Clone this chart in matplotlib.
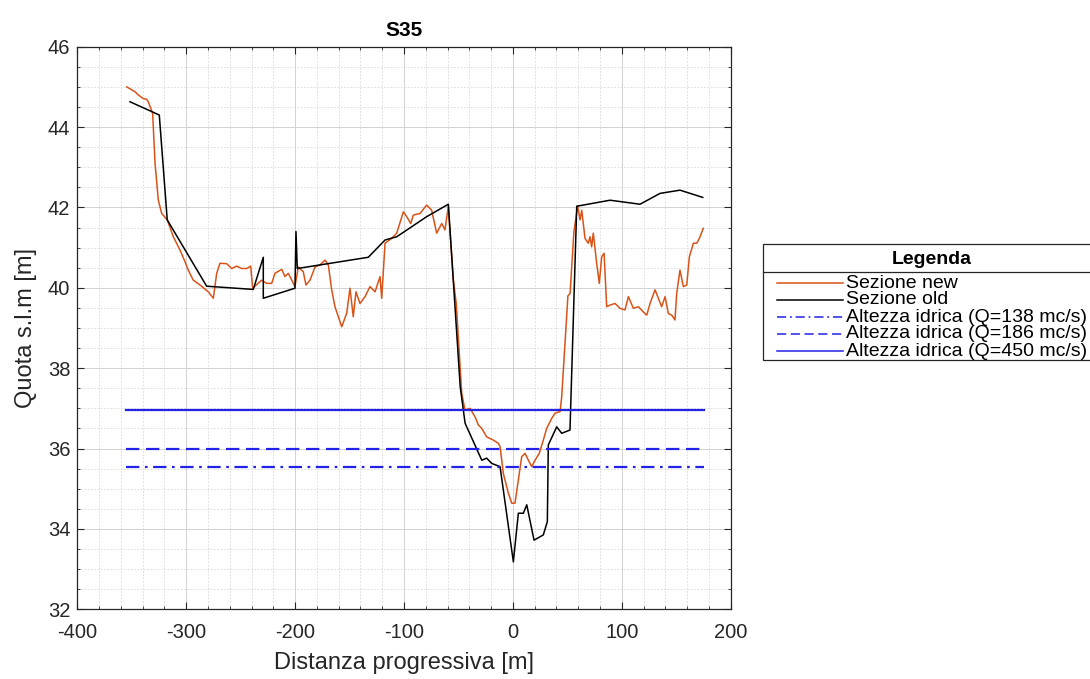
import matplotlib
matplotlib.use("Agg")
import matplotlib.pyplot as plt
from matplotlib.ticker import MultipleLocator
from matplotlib.lines import Line2D
from matplotlib.patches import Rectangle

# ---- data ----
x_new = [-354.6, -347.0, -344.0, -339.4, -336.3, -334.8, -332.6, -330.8, -328.6, -325.6,
         -322.5, -317.4, -311.8, -305.7, -301.1, -298.1, -293.5, -287.3, -279.7, -275.1,
         -272.0, -269.0, -262.8, -258.2, -253.6, -249.0, -244.4, -240.8, -239.0, -230.7,
         -226.1, -221.5, -218.5, -212.3, -209.3, -206.2, -200.1, -197.1, -192.5, -190.0,
         -186.3, -181.7, -177.1, -172.5, -169.5, -166.4, -163.4, -157.2, -152.6, -149.6,
         -146.6, -144.1, -140.4, -135.8, -131.2, -126.6, -122.0, -120.5, -117.4, -111.3,
         -106.7, -100.6, -97.5, -93.8, -91.5, -85.3, -79.2, -74.6, -70.0, -65.4,
         -62.4, -59.3, -54.7, -52.0, -47.0, -44.0, -39.4, -34.8, -31.8, -28.6,
         -24.1, -18.0, -13.4, -11.8, -8.8, -4.2, -1.1, 1.9, 5.0, 8.1,
         11.1, 14.2, 17.3, 20.3, 24.2, 27.9, 31.0, 35.6, 38.7, 43.3,
         44.8, 48.5, 50.5, 52.5, 56.0, 59.5, 61.6, 63.2, 66.2, 69.2,
         70.8, 72.3, 73.8, 76.9, 79.3, 81.5, 83.7, 86.1, 89.2, 93.8,
         98.3, 102.9, 106.0, 110.6, 115.2, 119.7, 122.9, 125.9, 130.5, 133.5,
         136.6, 139.7, 142.7, 145.8, 148.8, 150.4, 153.4, 156.5, 159.6, 162.0,
         165.7, 168.8, 171.2, 174.8]
y_new = [45.00, 44.88, 44.80, 44.71, 44.69, 44.63, 44.47, 44.34, 43.10, 42.18,
         41.85, 41.69, 41.27, 40.94, 40.65, 40.44, 40.19, 40.07, 39.90, 39.74,
         40.36, 40.61, 40.60, 40.48, 40.54, 40.48, 40.48, 40.54, 39.99, 40.19,
         40.11, 40.11, 40.36, 40.46, 40.28, 40.36, 40.03, 40.52, 40.40, 40.07,
         40.19, 40.52, 40.57, 40.69, 40.57, 39.95, 39.53, 39.03, 39.37, 39.99,
         39.28, 39.90, 39.61, 39.78, 40.03, 39.90, 40.28, 39.74, 41.11, 41.23,
         41.36, 41.89, 41.77, 41.60, 41.81, 41.85, 42.06, 41.93, 41.36, 41.60,
         41.44, 42.02, 40.19, 39.60, 37.37, 36.96, 37.00, 36.79, 36.59, 36.50,
         36.29, 36.21, 36.13, 36.05, 35.38, 34.89, 34.64, 34.64, 35.22, 35.80,
         35.88, 35.71, 35.55, 35.71, 35.88, 36.21, 36.50, 36.75, 36.88, 36.92,
         37.29, 38.90, 39.80, 39.86, 41.40, 42.04, 41.69, 41.93, 41.23, 41.11,
         41.27, 41.02, 41.36, 40.61, 40.11, 40.77, 40.86, 39.53, 39.57, 39.61,
         39.49, 39.45, 39.78, 39.49, 39.53, 39.40, 39.32, 39.61, 39.95, 39.74,
         39.53, 39.78, 39.36, 39.32, 39.20, 39.86, 40.44, 40.03, 40.07, 40.77,
         41.11, 41.11, 41.23, 41.48]

x_old = [-351.6, -324.7, -317.4, -281.2, -238.4, -229.2, -229.2, -200.1, -199.2, -198.0,
         -132.8, -117.4, -106.7, -79.2, -59.3, -48.4, -43.9, -28.6, -24.1, -19.5,
         -11.8, 0.4, 5.0, 9.6, 12.7, 19.4, 27.9, 31.6, 32.5, 40.2,
         44.8, 52.4, 58.6, 89.2, 116.7, 135.1, 153.4, 174.3]
y_old = [44.63, 44.30, 41.69, 40.04, 39.96, 40.76, 39.74, 39.99, 41.40, 40.48,
         40.76, 41.19, 41.27, 41.77, 42.08, 37.54, 36.63, 35.71, 35.76, 35.63,
         35.55, 33.18, 34.39, 34.39, 34.60, 33.72, 33.85, 34.18, 36.09, 36.54,
         36.38, 36.46, 42.03, 42.18, 42.08, 42.35, 42.43, 42.25]

x_level = [-355, 175]
q_values = [138, 186, 450]
level_values = [35.55, 35.98, 36.97]

x_ticks = [-400, -300, -200, -100, 0, 100, 200]
y_ticks = [32, 34, 36, 38, 40, 42, 44, 46]

# ---- style ----
plt.rcParams['font.family'] = ['Liberation Sans', 'DejaVu Sans']
plt.rcParams['axes.unicode_minus'] = False
DARK = '#262626'
ORANGE = '#D95319'
BLUE = '#2222e6'

fig = plt.figure(figsize=(10.9, 6.79), dpi=100)
ax = fig.add_axes([0.0709, 0.1027, 0.5995, 0.8285])

entries = []
ln_new, = ax.plot(x_new, y_new, color=ORANGE, lw=1.1, label='Sezione new')
entries.append((ln_new, '-'))
ln_old, = ax.plot(x_old, y_old, color='black', lw=1.1, label='Sezione old')
entries.append((ln_old, '-'))
styles = [(0, (6, 2.5, 1.2, 2.5)), (0, (6, 3)), '-']
for q, lv, st in zip(q_values, level_values, styles):
    l, = ax.plot(x_level, [lv, lv], color=BLUE, lw=1.6, linestyle=st,
                 label=f'Altezza idrica (Q={q} mc/s)')
    entries.append((l, st))

ax.set_xlim(-400, 200)
ax.set_ylim(32, 46)
ax.set_xticks(x_ticks)
ax.set_yticks(y_ticks)
ax.xaxis.set_minor_locator(MultipleLocator(20))
ax.yaxis.set_minor_locator(MultipleLocator(0.5))
ax.grid(True, which='major', color='#d2d2d2', lw=0.7)
ax.grid(True, which='minor', color='#d8d8d8', lw=0.6, linestyle=(0, (2, 2)))
ax.set_axisbelow(True)
ax.tick_params(which='both', direction='in', top=True, right=True, colors=DARK,
               labelsize=14.5)
ax.tick_params(which='major', length=5, width=0.8)
ax.tick_params(which='minor', length=2.5, width=0.6)
ax.tick_params(axis='x', pad=10)
ax.tick_params(axis='y', pad=5)
for sp in ax.spines.values():
    sp.set_color(DARK)
    sp.set_linewidth(0.9)

ax.set_xlabel('Distanza progressiva [m]', fontsize=17, color=DARK, labelpad=7)
ax.set_ylabel('Quota s.l.m [m]', fontsize=17, color=DARK, labelpad=8)
ax.set_title('S35', fontsize=15, fontweight='bold', color='black', pad=8)

# ---- legend (box with title separator) ----
W, H = 1090.0, 679.0
def fx(px):
    return px / W
def fy(py):
    return 1 - py / H

box_l, box_t, box_sep, box_b, box_r = 763, 244, 272, 360, 1100
fig.add_artist(Rectangle((fx(box_l), fy(box_b)), fx(box_r) - fx(box_l), fy(box_t) - fy(box_b),
                         transform=fig.transFigure, facecolor='white', edgecolor=DARK,
                         lw=0.9, clip_on=False))
fig.add_artist(Line2D([fx(box_l), fx(box_r)], [fy(box_sep), fy(box_sep)],
                      transform=fig.transFigure, color=DARK, lw=0.9))
fig.text(fx(932), fy(259), 'Legenda', fontsize=14, fontweight='bold',
         ha='center', va='center', color='black')

row_y = [283, 300, 317, 334, 351]
for (h, st), ry in zip(entries, row_y):
    fig.add_artist(Line2D([fx(777), fx(843)], [fy(ry), fy(ry)], transform=fig.transFigure,
                          color=h.get_color(), lw=1.1, linestyle=st))
    fig.text(fx(846), fy(ry), h.get_label(), fontsize=14, ha='left', va='center',
             color='black')

fig.savefig('out.png', dpi=100)
